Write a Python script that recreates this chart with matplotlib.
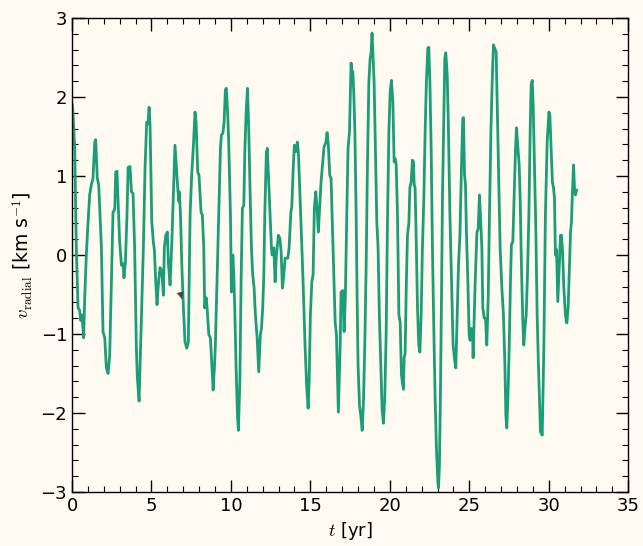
import matplotlib
matplotlib.use("Agg")
import matplotlib.pyplot as plt
from matplotlib.ticker import MultipleLocator

plt.rcParams['mathtext.fontset'] = 'cm'

t_yr = [0.02, 0.06, 0.17, 0.27, 0.38, 0.48, 0.55, 0.63, 0.73, 0.80, 0.90, 1.01, 1.11, 1.22, 1.32, 1.43, 1.49,
        1.59, 1.68, 1.85, 1.95, 2.06, 2.16, 2.27, 2.37, 2.48, 2.58, 2.69, 2.75, 2.83, 2.90, 3.00, 3.11,
        3.21, 3.27, 3.36, 3.46, 3.53, 3.65, 3.74, 3.84, 3.94, 4.05, 4.11, 4.22,
        4.34, 4.49, 4.60, 4.70, 4.78, 4.85, 4.91, 5.02, 5.12, 5.18, 5.27, 5.35, 5.43, 5.54, 5.65, 5.75,
        5.81, 5.90, 6.00, 6.06, 6.17, 6.28, 6.38, 6.48, 6.59, 6.65, 6.72, 6.75, 6.82, 6.91, 7.01, 7.11,
        7.22, 7.32, 7.43, 7.53, 7.64, 7.74, 7.81, 7.91, 7.99, 8.12, 8.20,
        8.29, 8.35, 8.44, 8.50, 8.61, 8.71, 8.81, 8.88, 8.96, 9.02, 9.13, 9.23, 9.34, 9.40, 9.49, 9.57,
        9.65, 9.71, 9.80, 9.86, 9.97, 10.03, 10.12, 10.18, 10.24, 10.32, 10.41, 10.47, 10.56, 10.64,
        10.72, 10.81, 10.87, 10.95, 11.04, 11.12, 11.20, 11.29, 11.37, 11.46, 11.54, 11.65, 11.75,
        11.85, 11.92, 12.00, 12.07, 12.13, 12.23, 12.29, 12.38, 12.46, 12.55,
        12.59, 12.70, 12.78, 12.86, 12.99, 13.08, 13.16, 13.24, 13.33, 13.41, 13.49, 13.58, 13.66,
        13.77, 13.83, 13.91, 13.99, 14.08, 14.18, 14.25, 14.33, 14.43, 14.54, 14.67, 14.77, 14.86,
        14.92, 15.00, 15.09, 15.17, 15.25, 15.34, 15.42, 15.50, 15.59, 15.67, 15.76, 15.86, 15.97,
        16.05, 16.13, 16.22, 16.30, 16.39, 16.49, 16.56, 16.64, 16.76,
        16.87, 16.93, 17.04, 17.12, 17.20, 17.29, 17.37, 17.46, 17.56, 17.63, 17.67, 17.73, 17.80,
        17.88, 17.94, 18.00, 18.09, 18.17, 18.26, 18.34, 18.42, 18.51, 18.59, 18.68, 18.76, 18.82,
        18.88, 18.95, 19.01, 19.09, 19.18, 19.26, 19.34, 19.43, 19.51, 19.60, 19.68, 19.77, 19.85,
        19.94, 20.02, 20.10, 20.19, 20.27, 20.33, 20.40, 20.48, 20.57, 20.65, 20.73, 20.79, 20.86,
        20.90, 20.96, 21.04, 21.11, 21.20, 21.26, 21.34, 21.42, 21.49, 21.53, 21.59, 21.67, 21.74,
        21.82, 21.89, 21.97, 22.05, 22.14, 22.22, 22.30, 22.39, 22.45, 22.52, 22.60, 22.68, 22.77,
        22.85, 22.93, 23.02, 23.06, 23.12, 23.18, 23.25, 23.31, 23.40, 23.46, 23.52, 23.61, 23.69,
        23.78, 23.88, 23.98, 24.09, 24.15, 24.24, 24.32, 24.41, 24.51, 24.59, 24.63, 24.70, 24.76,
        24.82, 24.91, 24.99, 25.05, 25.12, 25.20, 25.24,
        25.37, 25.48, 25.56, 25.64, 25.70, 25.79, 25.85, 25.94, 26.02, 26.10, 26.19, 26.27, 26.36,
        26.44, 26.52, 26.61, 26.69, 26.77, 26.86, 26.94, 27.05, 27.15, 27.24, 27.30, 27.36, 27.43,
        27.51, 27.59, 27.65, 27.74, 27.82, 27.91, 27.97, 28.06, 28.14, 28.20, 28.28, 28.37, 28.43,
        28.50, 28.58, 28.66, 28.75, 28.83, 28.89, 28.96, 29.02, 29.10, 29.19, 29.27, 29.35,
        29.48, 29.59, 29.69, 29.79, 29.90, 30.01, 30.07, 30.15, 30.23, 30.30, 30.36, 30.42, 30.49,
        30.57, 30.64, 30.74, 30.80, 30.87, 30.95, 31.05, 31.14, 31.22, 31.30, 31.37, 31.43, 31.49,
        31.56, 31.62, 31.68, 31.75]

v_radial = [1.90, 1.80, 1.35, 0.09, -0.67, -0.70, -0.83, -0.76, -1.05, -0.54, 0.00, 0.42, 0.76, 0.89, 0.97, 1.43, 1.46,
            0.97, 0.89, 0.09, -0.97, -1.05, -1.43, -1.50, -1.27, -0.34, 0.54, 0.58, 1.05, 1.06, 0.67, 0.16, -0.13,
            -0.11, -0.29, -0.09, 0.51, 1.11, 1.12, 0.80, 0.78, 0.09, -1.18, -1.55, -1.85,
            -0.97, 0.09, 1.14, 1.68, 1.66, 1.87, 1.65, 0.42, 0.16, 0.07, -0.34, -0.63, -0.38, -0.16, -0.20, -0.51,
            0.09, 0.25, 0.29, -0.09, -0.38, 0.16, 0.76, 1.39, 1.05, 0.85, 0.68, 0.80, 0.54, -0.13, -0.67, -1.10,
            -1.18, -1.10, 0.51, 1.01, 1.39, 1.81, 1.68, 1.05, 1.01, 0.54, 0.51,
            0.09, -0.67, -0.54, -0.67, -1.01, -1.05, -1.43, -1.71, -1.43, -1.14, -0.29, 0.51, 1.35, 1.52, 1.54, 1.68,
            2.09, 2.11, 1.77, 1.43, 0.51, -0.47, 0.00, -0.25, -0.67, -1.39, -2.03, -2.22, -1.61, -0.34,
            0.59, 0.63, 1.27, 1.77, 2.11, 1.61, 0.85, 0.09, -0.25, -0.42, -0.76, -1.05, -1.48,
            -1.01, -0.93, -0.67, -0.25, 0.51, 1.30, 1.35, 0.92, 0.51, 0.09,
            0.00, 0.09, -0.34, 0.00, 0.25, 0.21, 0.04, -0.42, -0.25, -0.04, -0.04, -0.04, 0.09,
            0.54, 0.61, 1.05, 1.39, 1.31, 1.43, 1.27, 0.85, 0.29, -0.34, -1.18, -1.68, -1.94,
            -1.61, -0.76, -0.34, -0.25, 0.59, 0.80, 0.59, 0.29, 0.63, 0.92, 1.14, 1.37, 1.42,
            1.55, 1.39, 1.01, 0.97, 0.34, -0.34, -0.85, -1.01, -1.99,
            -1.18, -0.47, -0.45, -0.97, -0.54, 0.51, 1.35, 1.56, 2.43, 2.30, 2.32, 2.06, 1.56,
            0.51, -0.54, -1.39, -1.90, -2.03, -2.22, -1.86, -1.18, -0.13, 1.14, 2.19, 2.49, 2.56,
            2.81, 2.49, 2.19, 1.35, 0.42, 0.09, -0.76, -1.39, -1.94, -2.13, -1.81, -0.97, 0.42,
            1.56, 2.06, 2.21, 1.94, 1.18, 1.22, 1.14, 0.51, -0.76, -0.85, -1.52, -1.61, -1.70,
            -1.30, -1.25, -0.34, 0.25, 0.41, 0.85, 0.92, 1.20, 1.18, 0.89, 0.85, 0.09, -0.67,
            -1.14, -1.23, -0.76, 0.09, 0.72, 1.56, 2.19, 2.62, 2.63, 2.19, 1.35, 0.09, -0.97,
            -1.81, -2.44, -2.87, -2.95, -2.66, -1.81, -0.54, 0.72, 1.77, 2.49, 2.56, 2.28, 1.56,
            0.51, -0.34, -1.14, -1.35, -1.43, -0.76, -0.13, 0.25, 1.14, 1.73, 1.74, 1.01, 0.89,
            0.29, -0.34, -1.01, -1.08, -0.93, -0.95, -1.30,
            -0.34, 0.29, 0.33, 0.76, 0.51, 0.09, -0.67, -0.80, -0.80, -1.14, -0.54, 0.51, 1.56,
            2.19, 2.66, 2.61, 2.57, 1.77, 0.92, 0.09, -0.42, -0.76, -1.39, -2.03, -2.19, -1.81,
            -1.18, -0.34, 0.13, 0.17, 0.72, 1.35, 1.61, 1.35, 1.14, 0.72, -0.13, -0.85, -1.14,
            -0.93, -0.76, -0.25, 0.51, 1.56, 2.15, 2.21, 1.90, 1.14, 0.29, -0.76, -1.39,
            -2.24, -2.28, -1.18, 0.51, 1.43, 1.81, 1.77, 1.35, 0.92, 0.85, 0.72, 0.00, 0.07,
            -0.59, -0.25, 0.25, 0.25, 0.04, -0.42, -0.76, -0.86, -0.67, -0.16, 0.29, 0.42, 0.80,
            1.14, 0.85, 0.76, 0.82]

bg = '#fffaf0'
fig = plt.figure(figsize=(6.43, 5.46), dpi=100, facecolor=bg)
ax = fig.add_axes([0.112, 0.099, 0.865, 0.868])
ax.set_facecolor(bg)

ax.plot(t_yr, v_radial, color='#1b9e77', lw=2.0)
ax.annotate('', xy=(6.92, -0.56), xytext=(6.86, -0.51),
            arrowprops=dict(arrowstyle='-|>', color='#444444', lw=0.5, mutation_scale=11))

ax.set_xlim(0, 35)
ax.set_ylim(-3, 3)
ax.xaxis.set_major_locator(MultipleLocator(5))
ax.xaxis.set_minor_locator(MultipleLocator(1))
ax.yaxis.set_major_locator(MultipleLocator(1))
ax.yaxis.set_minor_locator(MultipleLocator(0.2))
ax.tick_params(which='both', direction='in', top=True, right=True, labelsize=13)
ax.tick_params(which='major', length=9, width=1)
ax.tick_params(which='minor', length=4.5, width=0.8)
for s in ax.spines.values():
    s.set_linewidth(1.0)

ax.set_xlabel(r'$t$ [yr]', fontsize=13)
ax.set_ylabel(r'$v_{\rm radial}$ [km s$^{-1}$]', fontsize=13.5)

fig.savefig('out.png', dpi=100, facecolor=bg)
